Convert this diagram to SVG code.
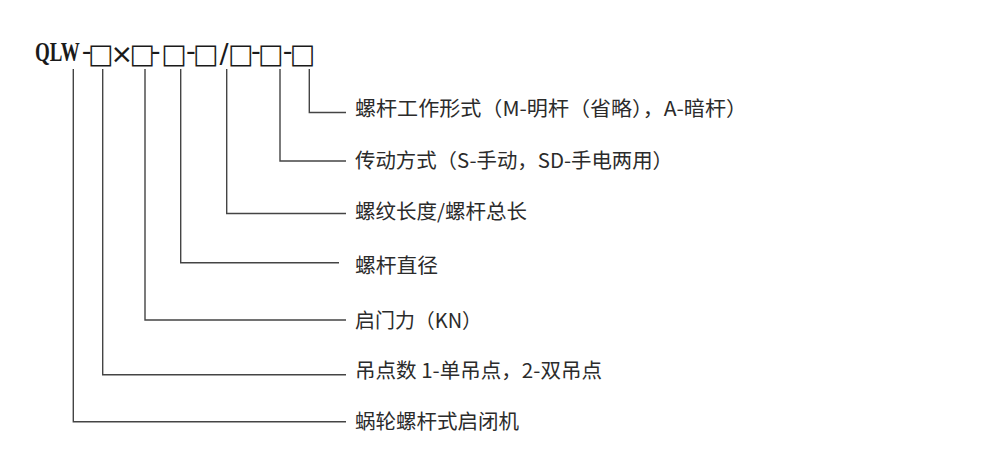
<svg xmlns="http://www.w3.org/2000/svg" width="1000" height="469" viewBox="0 0 1000 469">
<style>
.bg{fill:#ffffff}
.sym{font-family:"DejaVu Sans",sans-serif;font-size:27px;fill:#1a1a1a}
.qlw{font-family:"Liberation Serif",serif;font-weight:bold;font-size:19px;fill:#1a1a1a}
.lbl{font-family:"Noto Sans CJK SC","Noto Sans",sans-serif;font-size:20px;fill:#2b2b2b}
.conn{fill:none;stroke:#444444;stroke-width:1.4}
</style>
<rect class="bg" x="0" y="0" width="1000" height="469"/>
<g id="model-code">
<text class="qlw" x="0" y="0" transform="translate(35,60.5) scale(1,1.4)">QLW</text>
<text class="sym" text-anchor="middle" x="86.5 100.8 121.7 142.2 155.5 174 190.8 205.8 224 240.8 255.8 270.8 287.5 302.5" y="59.5 62.5 62.5 62.5 59.5 62.5 59.5 62.5 62.5 62.5 59.5 62.5 59.5 62.5">-□×□-□-□/□-□-□</text>
</g>
<g id="connectors">
<path class="conn" d="M309.3,69 V112.5 H346"/>
<path class="conn" d="M280,69 V161 H346"/>
<path class="conn" d="M226.7,69 V213.5 H346"/>
<path class="conn" d="M180.7,69 V262.7 H339"/>
<path class="conn" d="M145,69 V320 H346"/>
<path class="conn" d="M102.7,69 V374.7 H346"/>
<path class="conn" d="M73.3,69 V421.7 H346"/>
</g>
<g id="label-1"><text class="lbl" x="355" y="115.5" textLength="392" lengthAdjust="spacingAndGlyphs">螺杆工作形式（M-明杆（省略），A-暗杆）</text></g>
<g id="label-2"><text class="lbl" x="355" y="167.6" textLength="318" lengthAdjust="spacingAndGlyphs">传动方式（S-手动，SD-手电两用）</text></g>
<g id="label-3"><text class="lbl" x="355" y="219.3" textLength="172" lengthAdjust="spacingAndGlyphs">螺纹长度/螺杆总长</text></g>
<g id="label-4"><text class="lbl" x="355" y="273.4" textLength="83" lengthAdjust="spacingAndGlyphs">螺杆直径</text></g>
<g id="label-5"><text class="lbl" x="355" y="327.6" textLength="127" lengthAdjust="spacingAndGlyphs">启门力（KN）</text></g>
<g id="label-6"><text class="lbl" x="355" y="377.6" textLength="247" lengthAdjust="spacingAndGlyphs">吊点数 1-单吊点，2-双吊点</text></g>
<g id="label-7"><text class="lbl" x="355" y="429.3" textLength="164" lengthAdjust="spacingAndGlyphs">蜗轮螺杆式启闭机</text></g>
</svg>
